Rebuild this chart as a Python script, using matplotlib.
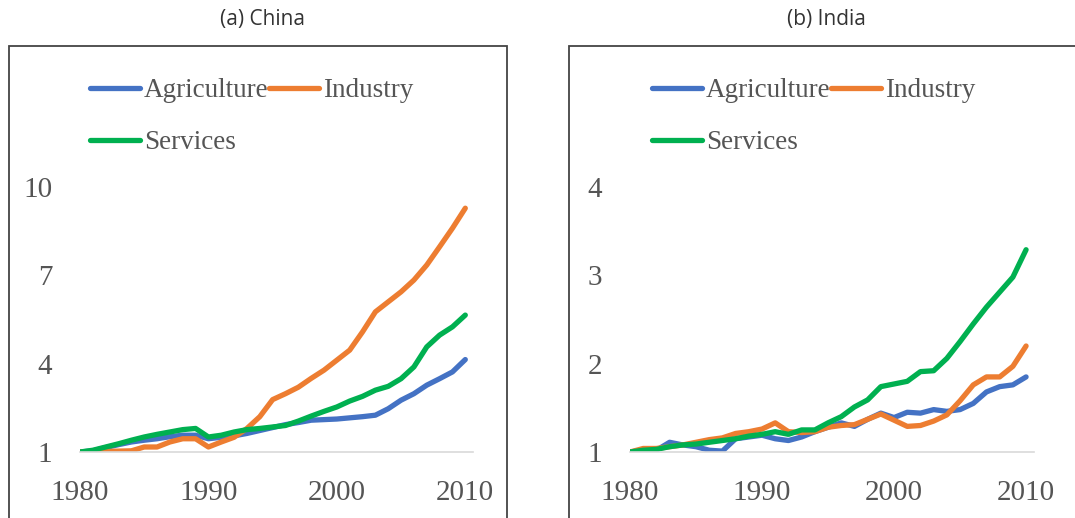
import matplotlib
matplotlib.use('Agg')
import matplotlib.pyplot as plt
from matplotlib.patches import Rectangle

years = list(range(1980, 2011))

# China, index 1980 = 1
china_agriculture = [1.0, 1.04, 1.15, 1.25, 1.34, 1.4, 1.45, 1.52, 1.57, 1.57,
                     1.45, 1.5, 1.55, 1.63, 1.73, 1.83, 1.93, 2.0, 2.08, 2.1,
                     2.12, 2.16, 2.2, 2.25, 2.47, 2.76, 2.98, 3.27, 3.49, 3.72, 4.14]
china_industry = [1.0, 1.0, 1.02, 1.03, 1.04, 1.17, 1.17, 1.34, 1.45, 1.45,
                  1.17, 1.34, 1.5, 1.8, 2.2, 2.78, 2.98, 3.2, 3.5, 3.78,
                  4.12, 4.46, 5.08, 5.76, 6.1, 6.44, 6.84, 7.35, 7.97, 8.6, 9.28]
china_services = [1.0, 1.06, 1.17, 1.28, 1.4, 1.51, 1.6, 1.68, 1.76, 1.8,
                  1.51, 1.57, 1.68, 1.76, 1.8, 1.85, 1.9, 2.05, 2.22, 2.38,
                  2.53, 2.73, 2.89, 3.1, 3.23, 3.49, 3.89, 4.57, 4.97, 5.25, 5.65]

# India, index 1980 = 1
india_agriculture = [1.0, 1.02, 1.02, 1.11, 1.08, 1.06, 1.02, 1.01, 1.15, 1.17,
                     1.19, 1.15, 1.13, 1.17, 1.23, 1.28, 1.33, 1.29, 1.37, 1.44,
                     1.39, 1.45, 1.44, 1.48, 1.46, 1.48, 1.55, 1.68, 1.74, 1.76, 1.85]
india_industry = [1.0, 1.04, 1.04, 1.06, 1.08, 1.11, 1.14, 1.16, 1.21, 1.23,
                  1.26, 1.33, 1.23, 1.22, 1.23, 1.28, 1.3, 1.31, 1.37, 1.43,
                  1.36, 1.29, 1.3, 1.35, 1.42, 1.58, 1.76, 1.85, 1.85, 1.97, 2.2]
india_services = [1.0, 1.02, 1.03, 1.06, 1.08, 1.09, 1.11, 1.13, 1.15, 1.18,
                  1.2, 1.23, 1.2, 1.25, 1.25, 1.33, 1.4, 1.51, 1.59, 1.74,
                  1.77, 1.8, 1.91, 1.92, 2.06, 2.25, 2.45, 2.64, 2.81, 2.98, 3.29]

china_yticks = [1, 4, 7, 10]
india_yticks = [1, 2, 3, 4]
xticks = [1980, 1990, 2000, 2010]

colors = ['#4472C4', '#ED7D31', '#00B050']
labels = ['Agriculture', 'Industry', 'Services']

W, H = 1075, 518
fig = plt.figure(figsize=(W / 100, H / 100), dpi=100)

# title, data, yticks, plot area x (px), frame left/right (px), title x, legend x
panels = [
    ('(a) China', [china_agriculture, china_industry, china_services], china_yticks,
     (80, 473), (9, 507), 262, 90),
    ('(b) India', [india_agriculture, india_industry, india_services], india_yticks,
     (630, 1034), (569, 1200), 826, 652),
]

for title, series, yt, (x0, x1), (bl, br), title_x, leg_x in panels:
    # outer chart frame, bottom edge is cut off in the original
    fig.patches.append(Rectangle((bl / W, -0.2), (br - bl) / W, 1.2 - 46 / H,
                                 transform=fig.transFigure, fill=False,
                                 edgecolor='#444444', lw=1.3, clip_on=False))
    fig.text(title_x / W, 1 - 19 / H, title, ha='center', va='center',
             fontsize=15, family='Open Sans', color='#333333')

    ax = fig.add_axes([x0 / W, 1 - 452 / H, (x1 - x0) / W, 265 / H])
    for vals, c, lab in zip(series, colors, labels):
        ax.plot(years, vals, color=c, lw=3.8, label=lab, solid_capstyle='round')
    ax.set_xlim(1980, 2010.6)
    ax.set_ylim(yt[0], yt[-1])
    ax.set_yticks(yt)
    ax.set_xticks(xticks)
    for s in ['top', 'right', 'left']:
        ax.spines[s].set_visible(False)
    ax.spines['bottom'].set_color('#D9D9D9')
    ax.spines['bottom'].set_linewidth(1.2)
    ax.tick_params(length=0, labelsize=21, colors='#555555')
    ax.tick_params(axis='y', pad=20)
    ax.tick_params(axis='x', pad=20)
    for t in ax.get_xticklabels() + ax.get_yticklabels():
        t.set_family('Liberation Serif')

    h, l = ax.get_legend_handles_labels()
    order = [0, 2, 1]  # row-wise: Agriculture, Industry / Services
    fig.legend([h[i] for i in order], [l[i] for i in order], loc='upper left',
               bbox_to_anchor=(leg_x / W, 1 - 78 / H), ncol=2, frameon=False,
               prop={'family': 'Liberation Serif', 'size': 19.5},
               labelcolor='#555555', handlelength=1.85, handletextpad=0.15,
               columnspacing=0.0, borderpad=0, borderaxespad=0, labelspacing=1.0)

fig.savefig('out.png', dpi=100)
